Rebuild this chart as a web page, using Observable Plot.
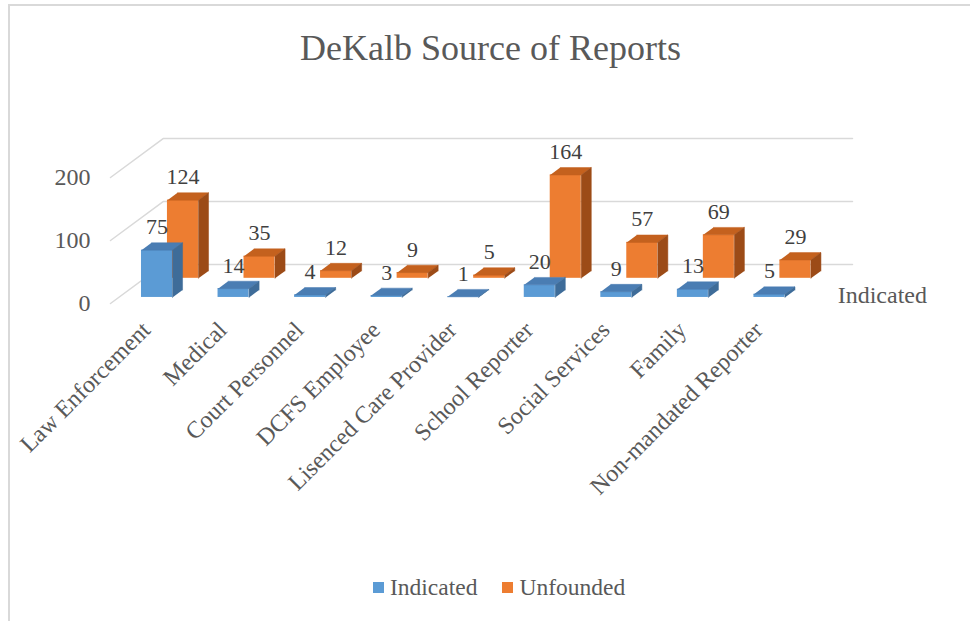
<!DOCTYPE html>
<html>
<head>
<meta charset="utf-8">
<script src="https://cdn.jsdelivr.net/npm/d3@7"></script>
<script src="https://cdn.jsdelivr.net/npm/@observablehq/plot@0.6"></script>
<style>
  body { margin: 0; background: #fff; width: 970px; height: 621px; overflow: hidden; position: relative;
         font-family: "Liberation Serif", "Times New Roman", serif; }
  #frame { position: absolute; left: 8px; top: 4px; width: 1000px; height: 1000px;
           border-left: 2px solid #d9d9d9; border-top: 2px solid #d9d9d9; }
  #title { position: absolute; left: 0; top: 30px; width: 981px; text-align: center;
           font-size: 36px; line-height: 36px; color: #595959; white-space: nowrap; }
  #chart { position: absolute; left: 0; top: 100px; }
  #legend { position: absolute; left: 373px; top: 576px; display: flex; align-items: center;
            font-size: 23.5px; line-height: 23px; color: #595959; }
  .item { display: flex; align-items: center; margin-right: 25px; }
  .sw { width: 11px; height: 11px; margin-right: 6px; }
</style>
</head>
<body>
<div id="frame"></div>
<div id="title">DeKalb Source of Reports</div>
<div id="chart"></div>
<div id="legend"></div>
<script>
// ---- data ----
const categories = ["Law Enforcement", "Medical", "Court Personnel", "DCFS Employee",
  "Lisenced Care Provider", "School Reporter", "Social Services", "Family", "Non-mandated Reporter"];
const indicated = [75, 14, 4, 3, 1, 20, 9, 13, 5];
const unfounded = [124, 35, 12, 9, 5, 164, 57, 69, 29];
const seriesNames = ["Indicated", "Unfounded"];
const yTicks = [0, 100, 200];

// ---- style / pseudo-3D geometry (oblique projection) ----
const DX = 0.692, DY = 62;          // floor depth, in x-units and y-units
const rowDepth = [0.155, 0.645];     // where each series row sits along the depth
const boxDepth = 0.19;               // depth of each bar box
const barW = 0.405;                  // bar width in category units
const palette = [
  {front: "#5B9BD5", top: "#4A7DB3", side: "#3E6C99"},
  {front: "#ED7D31", top: "#C4611E", side: "#9C4B17"}
];
const seriesValues = [indicated, unfounded];

function barsFor(s) {
  const f = rowDepth[s];
  return seriesValues[s].map((v, i) => {
    const cx = i + 0.5 + f * DX, base = f * DY;
    return {series: seriesNames[s], cat: categories[i], value: v, cx,
            x1: cx - barW / 2, x2: cx + barW / 2, y1: base, y2: base + v};
  });
}
const ddx = boxDepth * DX, ddy = boxDepth * DY;
function topFaces(bars) {
  return bars.flatMap((b, k) => [
    {id: k, x: b.x1, y: b.y2}, {id: k, x: b.x2, y: b.y2},
    {id: k, x: b.x2 + ddx, y: b.y2 + ddy}, {id: k, x: b.x1 + ddx, y: b.y2 + ddy}
  ]);
}
function sideFaces(bars) {
  return bars.flatMap((b, k) => [
    {id: k, x: b.x2, y: b.y1}, {id: k, x: b.x2, y: b.y2},
    {id: k, x: b.x2 + ddx, y: b.y2 + ddy}, {id: k, x: b.x2 + ddx, y: b.y1 + ddy}
  ]);
}
const nCat = categories.length;
const wallLines = yTicks.flatMap(t => [
  {t, x: 0, y: t}, {t, x: DX, y: t + DY}, {t, x: nCat + DX, y: t + DY}
]);

const rows = [barsFor(0), barsFor(1)];
const barMarks = [];
for (const s of [1, 0]) {
  const b = rows[s], c = palette[s];
  barMarks.push(
    Plot.rect(b, {x1: "x1", x2: "x2", y1: "y1", y2: "y2", fill: c.front}),
    Plot.line(topFaces(b), {x: "x", y: "y", z: "id", fill: c.top, stroke: c.top, strokeWidth: 0.5}),
    Plot.line(sideFaces(b), {x: "x", y: "y", z: "id", fill: c.side, stroke: c.side, strokeWidth: 0.5})
  );
}

const chart = Plot.plot({
  width: 970, height: 460,
  marginLeft: 110, marginRight: 171, marginTop: 14, marginBottom: 257,
  x: {domain: [0, nCat], axis: null},
  y: {domain: [0, 300], axis: null},
  style: {background: "transparent", fontFamily: "Liberation Serif, Times New Roman, serif",
          color: "#595959", overflow: "visible"},
  marks: [
    Plot.line(wallLines, {x: "x", y: "y", z: "t", stroke: "#d9d9d9", strokeWidth: 1.5}),
    ...barMarks,
    Plot.text(rows[1].concat(rows[0]), {x: "cx", y: "y2", text: d => String(d.value),
      dy: -23, fontSize: 22, fill: "#404040"}),
    Plot.text(categories, {x: (d, i) => i + 0.5, text: d => d, frameAnchor: "bottom",
      rotate: -45, textAnchor: "end", dx: 3, dy: 28, fontSize: 24, fill: "#595959"}),
    Plot.text(yTicks, {y: d => d, text: d => String(d), frameAnchor: "left",
      textAnchor: "end", dx: -20, fontSize: 24, fill: "#595959"}),
    Plot.text([seriesNames[0]], {x: () => nCat + rowDepth[0] * DX, y: () => rowDepth[0] * DY,
      text: d => d, textAnchor: "start", dx: 30, dy: -2, fontSize: 24, fill: "#595959"})
  ]
});
document.getElementById("chart").appendChild(chart);

// legend
const legend = document.getElementById("legend");
seriesNames.forEach((name, s) => {
  const item = document.createElement("div");
  item.className = "item";
  const sw = document.createElement("div");
  sw.className = "sw";
  sw.style.background = palette[s].front;
  const lab = document.createElement("span");
  lab.textContent = name;
  item.appendChild(sw); item.appendChild(lab);
  legend.appendChild(item);
});
</script>
</body>
</html>
